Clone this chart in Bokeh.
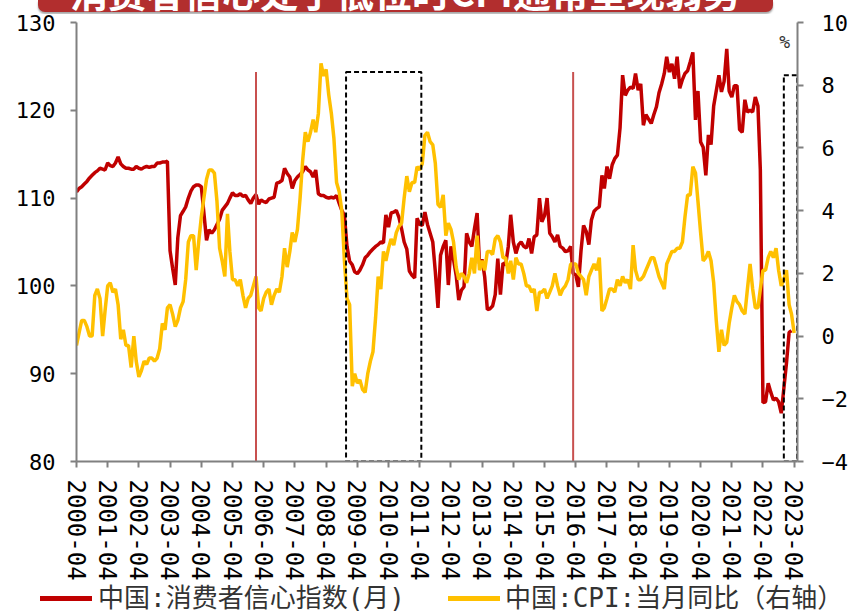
import pandas as pd
from bokeh.plotting import figure
from bokeh.layouts import column
from bokeh.models import (Range1d, LinearAxis, FixedTicker, DatetimeTickFormatter,
                          Label, Div)
from bokeh.embed import file_html
from bokeh.resources import INLINE

# ---------------- data ----------------
start_month = "2000-04-01"

# 中国:消费者信心指数(月), monthly 2000-04 .. 2023-03
cci = [
    110.7, 111.1, 111.3, 111.6, 111.9, 112.3, 112.6, 112.9, 113.1,
    113.4, 113.3, 113.2, 114.0, 113.7, 113.6, 114.0, 114.7, 113.9, 113.6, 113.4, 113.4,
    113.3, 113.3, 113.6, 113.4, 113.3, 113.5, 113.6, 113.5, 113.6, 113.6, 114.0, 114.0,
    114.1, 114.1, 114.2, 104.0, 102.0, 100.1, 105.5, 108.0, 108.5, 109.0, 110.0, 110.8,
    111.3, 111.5, 111.5, 111.3, 108.3, 105.2, 106.4, 106.0, 106.4, 107.0, 107.6, 108.6,
    109.0, 109.4, 110.0, 110.6, 110.3, 110.3, 110.5, 110.2, 110.3, 109.8, 109.4, 110.0,
    110.4, 109.3, 109.8, 109.6, 109.5, 109.9, 110.0, 110.1, 111.7, 111.8, 112.0, 113.4,
    112.8, 112.4, 111.1, 112.0, 112.4, 112.7, 113.0, 113.6, 113.2, 113.0, 112.4, 113.2,
    110.5, 110.3, 110.3, 110.1, 110.0, 110.1, 110.0, 110.3, 109.4, 108.6, 108.0, 104.5,
    102.8, 102.4, 101.6, 101.4, 101.8, 102.4, 103.2, 103.5, 103.9, 104.2, 104.5, 104.7,
    105.0, 104.9, 108.1, 106.7, 108.3, 108.4, 108.6, 107.8, 106.5, 105.0, 104.2, 101.7,
    101.2, 100.9, 107.7, 107.0, 106.9, 108.4, 107.0, 106.0, 105.0, 101.6, 97.5, 103.5,
    104.5, 105.2, 100.1, 104.5, 103.0, 101.2, 98.4, 99.5, 99.9, 106.0, 105.0, 104.5,
    106.5, 108.3, 102.5, 103.0, 101.0, 97.3, 97.4, 97.7, 99.0, 103.1, 99.0, 102.6,
    102.4, 104.5, 108.1, 105.0, 103.7, 104.7, 105.0, 104.5, 104.3, 105.4, 103.7, 105.6,
    105.8, 110.0, 107.3, 108.0, 110.0, 106.0, 105.6, 105.0, 105.8, 104.5, 104.3, 103.9,
    104.0, 104.5, 101.4, 101.25, 99.9, 104.0, 106.9, 106.2, 104.7, 107.5, 108.5, 108.8,
    109.0, 112.6, 111.1, 113.6, 112.2, 113.8, 114.5, 114.9, 118.0, 124.0, 121.7, 122.3,
    122.65, 122.5, 124.2, 122.3, 123.0, 118.3, 119.5, 119.0, 118.5, 119.5, 120.4, 122.0,
    123.0, 124.2, 126.1, 124.35, 125.3, 123.6, 126.1, 122.5, 123.5, 124.2, 124.5, 125.5,
    126.6, 118.9, 122.2, 116.4, 115.8, 112.6, 117.2, 116.1, 120.5, 122.2, 124.0, 122.1,
    123.3, 127.0, 122.2, 121.5, 122.8, 122.8, 117.8, 117.5, 121.2, 119.8, 120.0, 119.8,
    121.5, 120.5, 113.2, 86.7, 86.8, 88.9, 87.9, 87.0, 87.2, 86.8, 85.5, 88.3,
    91.2, 94.7, 94.9,
]

# 中国:CPI:当月同比 (%), monthly 2000-04 .. 2023-04
cpi = [
    -0.3, 0.1, 0.5, 0.5, 0.3, 0.0, 0.0, 1.3, 1.5,
    1.2, 0.0, 0.8, 1.6, 1.7, 1.4, 1.5, 1.0, -0.1, 0.2, -0.3, -0.3,
    -1.0, 0.0, -0.8, -1.3, -1.1, -0.8, -0.9, -0.7, -0.7, -0.8, -0.7, -0.4,
    0.4, 0.2, 0.9, 1.0, 0.7, 0.3, 0.5, 0.9, 1.1, 1.8, 3.0, 3.2,
    3.2, 2.1, 3.0, 3.8, 4.4, 5.0, 5.3, 5.3, 5.2, 4.3, 2.8, 2.4,
    1.9, 3.9, 2.7, 1.8, 1.8, 1.6, 1.8, 1.3, 0.9, 1.2, 1.3, 1.6,
    1.9, 0.9, 0.8, 1.2, 1.4, 1.5, 1.0, 1.3, 1.5, 1.4, 1.9, 2.8,
    2.2, 2.7, 3.3, 3.0, 3.4, 4.4, 5.6, 6.5, 6.2, 6.5, 6.9, 6.5,
    7.1, 8.7, 8.3, 8.5, 7.7, 7.1, 6.3, 4.9, 4.6, 4.0, 2.4, 1.2,
    1.0, -1.6, -1.2, -1.5, -1.4, -1.7, -1.8, -1.2, -0.8, -0.5, 0.6, 1.9,
    1.5, 2.7, 2.4, 2.8, 3.1, 2.9, 3.3, 3.5, 3.6, 4.4, 5.1, 4.6,
    4.9, 4.9, 5.4, 5.3, 5.5, 6.4, 6.5, 6.2, 6.1, 5.5, 4.2, 4.1,
    4.5, 3.2, 3.6, 3.4, 3.0, 2.2, 1.8, 2.0, 1.9, 1.7, 2.0, 2.5,
    2.0, 3.2, 2.1, 2.4, 2.1, 2.7, 2.7, 2.6, 3.1, 3.2, 3.0, 2.5,
    2.5, 2.0, 2.4, 1.8, 2.5, 2.3, 2.3, 2.0, 1.6, 1.6, 1.4, 1.5,
    0.8, 1.4, 1.4, 1.5, 1.2, 1.4, 1.6, 2.0, 1.6, 1.3, 1.5, 1.6,
    1.8, 2.3, 2.3, 2.3, 2.0, 1.9, 1.8, 1.3, 1.9, 2.1, 2.3, 2.1,
    2.5, 0.8, 0.9, 1.2, 1.5, 1.5, 1.4, 1.8, 1.6, 1.9, 1.7, 1.8,
    1.5, 2.9, 2.1, 1.8, 1.8, 1.9, 2.1, 2.3, 2.5, 2.5, 2.2, 1.9,
    1.7, 1.5, 2.3, 2.5, 2.7, 2.7, 2.8, 2.8, 3.0, 3.8, 4.5, 4.5,
    5.4, 5.2, 4.3, 3.3, 2.4, 2.5, 2.7, 2.4, 1.7, 0.5, -0.5, 0.2,
    -0.3, -0.2, 0.4, 0.9, 1.3, 1.1, 1.0, 0.8, 0.7, 1.5, 2.3, 1.5,
    0.9, 0.9, 1.5, 2.1, 2.1, 2.5, 2.7, 2.5, 2.8, 2.1, 1.6, 1.8,
    2.1, 1.0, 0.7, 0.1,
]

tick_years = list(range(2000, 2024))          # x tick labels "YYYY-04"
left_ticks = [80, 90, 100, 110, 120, 130]
right_ticks = [-4, -2, 0, 2, 4, 6, 8, 10]

marker_dates = ["2006-01-01", "2016-03-01"]    # thin red vertical markers
marker_top = 124.35
box_left = ["2008-11-20", "2022-12-01"]        # dashed highlight boxes
box_right = ["2011-04-20", "2023-05-06"]
box_top = [124.35, 124.0]
box_bottom = [80.0, 80.0]

title_text = "消费者信心处于低位时CPI通常呈现弱势"
name_cci = "中国:消费者信心指数(月)"
name_cpi = "中国:CPI:当月同比（右轴）"

# ---------------- build ----------------
def ts(s):
    return pd.Timestamp(s).to_pydatetime()

def ms(s):
    return pd.Timestamp(s).value / 1e6

cci_dates = list(pd.date_range(start_month, periods=len(cci), freq="MS").to_pydatetime())
cpi_dates = list(pd.date_range(start_month, periods=len(cpi), freq="MS").to_pydatetime())

RED = "#C00000"
YEL = "#FFC000"
AXC = "#808080"
MONO = "DejaVu Sans Mono"
LW = 3.5
TITLE_H = 14
LEGEND_H = 30
MAIN_H = 613 - TITLE_H - LEGEND_H

p = figure(width=850, height=MAIN_H, x_axis_type="datetime",
           x_range=Range1d(ts("2000-04-01"), ts("2023-05-10")),
           y_range=Range1d(80, 130),
           output_backend="svg", toolbar_location=None,
           min_border_left=76, min_border_right=53,
           min_border_top=22 - TITLE_H, min_border_bottom=MAIN_H - (22 - TITLE_H) - 440)
p.outline_line_color = None
p.xgrid.visible = False
p.ygrid.visible = False
p.background_fill_color = "white"
p.border_fill_color = "white"

p.extra_y_ranges = {"cpi": Range1d(-4, 10)}

def style_axis(ax, size="22px"):
    ax.axis_line_color = AXC
    ax.axis_line_width = 2
    ax.major_tick_line_color = AXC
    ax.major_tick_line_width = 2
    ax.major_tick_out = 6
    ax.major_tick_in = 0
    ax.minor_tick_out = 0
    ax.minor_tick_in = 0
    ax.major_label_text_font = MONO
    ax.major_label_text_font_size = size
    ax.major_label_text_color = "black"

# x axis
xa = p.xaxis[0]
xa.ticker = FixedTicker(ticks=[ms(f"{y}-04-01") for y in tick_years])
fmt = "%Y-%m"
xa.formatter = DatetimeTickFormatter(milliseconds=fmt, seconds=fmt, minsec=fmt,
                                     minutes=fmt, hourmin=fmt, hours=fmt,
                                     days=fmt, months=fmt, years=fmt)
style_axis(xa, "24px")
xa.major_label_orientation = "vertical"
xa.major_label_standoff = 12

# left axis
ya = p.yaxis[0]
ya.ticker = FixedTicker(ticks=left_ticks)
style_axis(ya)
ya.major_label_standoff = 15

# right axis
ra = LinearAxis(y_range_name="cpi", ticker=FixedTicker(ticks=right_ticks))
style_axis(ra)
ra.major_label_standoff = 18
p.add_layout(ra, "right")

# series
r1 = p.line(cci_dates, cci, line_color=RED, line_width=LW)
r2 = p.line(cpi_dates, cpi, y_range_name="cpi", line_color=YEL, line_width=LW)

# annotations
p.segment(x0=[ts(d) for d in marker_dates], y0=[80] * len(marker_dates),
          x1=[ts(d) for d in marker_dates], y1=[marker_top] * len(marker_dates),
          line_color="#C8504F", line_width=2)
p.quad(left=[ts(d) for d in box_left], right=[ts(d) for d in box_right],
       top=box_top, bottom=box_bottom, fill_color=None,
       line_color="black", line_width=2, line_dash="5 3")

p.add_layout(Label(x=ms("2022-12-10"), y=127.84, text="%", text_align="center",
                   text_baseline="middle", text_font=MONO, text_font_size="18px",
                   text_color="#333333"))

# ---- legend strip below the chart
legend_html = (
    '<div style="position:relative;width:850px;height:%dpx;'
    "font-family:'DejaVu Sans Mono','Noto Sans CJK SC',sans-serif;"
    'font-size:26px;color:#333333;">'
    '<div style="position:absolute;left:40px;top:13px;width:52px;height:5px;background:%s;"></div>'
    '<div style="position:absolute;left:98px;top:0;line-height:%dpx;white-space:nowrap;">%s</div>'
    '<div style="position:absolute;left:448px;top:13px;width:52px;height:5px;background:%s;"></div>'
    '<div style="position:absolute;left:505px;top:0;line-height:%dpx;white-space:nowrap;">%s</div>'
    '</div>'
) % (LEGEND_H, RED, LEGEND_H, name_cci, YEL, LEGEND_H, name_cpi)
legend_div = Div(text=legend_html, width=850, height=LEGEND_H, margin=0)

# ---- title banner (cut off by the page top, as in the reference)
title_html = (
    '<div style="margin-left:38px;width:735px;height:12px;overflow:hidden;'
    'background:#B22E2E;border-radius:0 0 7px 7px;box-shadow:0 2px 2px rgba(0,0,0,0.35);'
    'color:#ffffff;font-weight:bold;font-size:38px;line-height:12px;'
    "font-family:'Noto Sans CJK SC',sans-serif;text-align:center;white-space:nowrap;\">"
    '<span style="position:relative;top:-15px;">' + title_text + '</span></div>'
)
title_div = Div(text=title_html, width=850, height=TITLE_H, margin=0,
                styles={"overflow": "hidden"})

layout = column(title_div, p, legend_div, spacing=0)

open("out.html", "w").write(file_html(layout, INLINE))
